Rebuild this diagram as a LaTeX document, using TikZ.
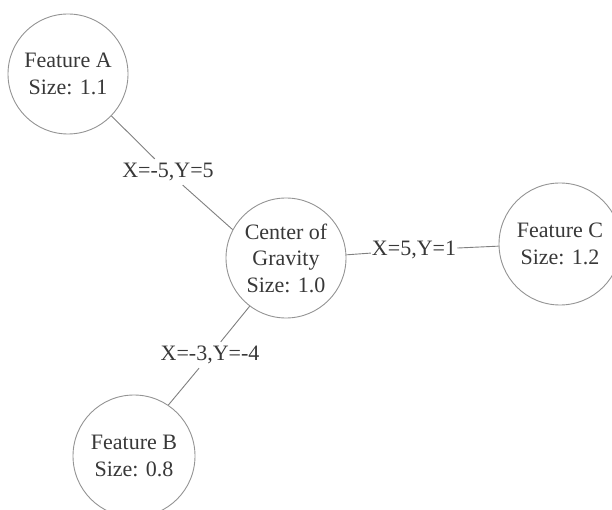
\documentclass[tikz,border=0pt]{standalone}
\usepackage{fontspec}
\setmainfont{Liberation Serif}
\begin{document}
\begin{tikzpicture}[x=1pt,y=-1pt,
  txt/.style={text=black!78, font=\fontsize{22}{26.5}\selectfont, align=center},
  feature/.style={txt, circle, draw=black!42, line width=0.9pt, inner sep=0pt},
  offset/.style={txt, inner sep=2pt},
  link/.style={draw=black!50, line width=0.9pt}]
  \useasboundingbox (0,0) rectangle (612,510);
  \fill[white] (0,0) rectangle (612,510);

  % feature circles
  \node[feature, minimum size=120pt] (cog) at (286,258) {Center of\\Gravity\\Size: 1.0};
  \node[feature, minimum size=120pt] (fa) at (68,74) {Feature A\\Size: 1.1};
  \node[feature, minimum size=122pt] (fc) at (560,244) {Feature C\\Size: 1.2};
  \node[feature, minimum size=122pt] (fb) at (134,456) {Feature B\\Size: 0.8};

  % offset labels sitting on the links
  \node[offset, inner sep=4pt] (la) at (168,172) {X=-5,Y=5};
  \node[offset, inner sep=1pt] (lc) at (414,250) {X=5,Y=1};
  \node[offset, inner sep=4pt] (lb) at (210,355) {X=-3,Y=-4};

  % links from the center of gravity to each feature
  \draw[link] (fa.-44) -- (la) -- (cog.152);
  \draw[link] (cog.3) -- (lc) -- (fc.182);
  \draw[link] (cog.233) -- (lb) -- (fb.56);
\end{tikzpicture}
\end{document}
